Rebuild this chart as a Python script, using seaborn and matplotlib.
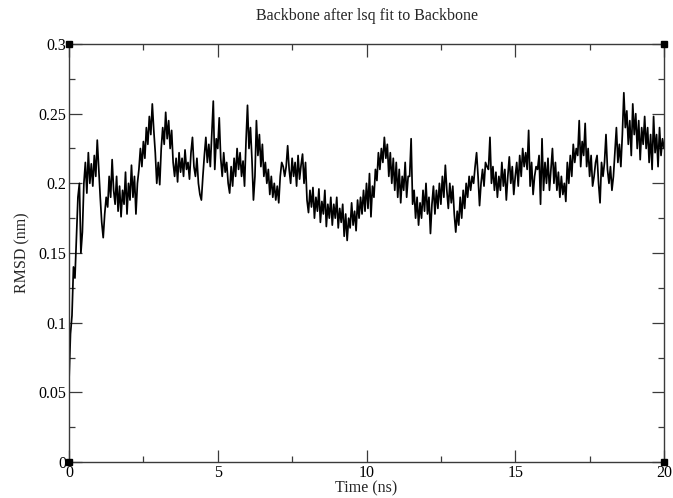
import numpy as np
import pandas as pd
import matplotlib
matplotlib.use("Agg")
import matplotlib.pyplot as plt
import seaborn as sns
from matplotlib.ticker import MultipleLocator

# ---- data (RMSD in nm, every 0.05 ns) ----
time_step_ns = 0.05
rmsd_nm = [
    # 0-1 ns
    0.058, 0.092, 0.105, 0.140, 0.132, 0.160, 0.190, 0.200, 0.150, 0.165,
    0.200, 0.215, 0.193, 0.222, 0.200, 0.214, 0.198, 0.220, 0.205, 0.231,
    # 1-2 ns
    0.210, 0.190, 0.172, 0.161, 0.178, 0.190, 0.183, 0.205, 0.190, 0.217,
    0.195, 0.185, 0.205, 0.180, 0.198, 0.176, 0.195, 0.185, 0.208, 0.178,
    # 2-3 ns
    0.200, 0.188, 0.213, 0.190, 0.205, 0.178, 0.200, 0.210, 0.225, 0.212,
    0.230, 0.218, 0.240, 0.228, 0.248, 0.235, 0.257, 0.238, 0.222, 0.200,
    # 3-4 ns
    0.215, 0.199, 0.225, 0.240, 0.228, 0.251, 0.232, 0.245, 0.225, 0.238,
    0.215, 0.205, 0.218, 0.201, 0.222, 0.208, 0.218, 0.205, 0.224, 0.210,
    # 4-5 ns
    0.215, 0.203, 0.222, 0.233, 0.212, 0.205, 0.218, 0.200, 0.192, 0.188,
    0.205, 0.220, 0.233, 0.215, 0.228, 0.212, 0.235, 0.259, 0.210, 0.232,
    # 5-6 ns
    0.225, 0.247, 0.218, 0.205, 0.222, 0.208, 0.215, 0.200, 0.193, 0.212,
    0.198, 0.218, 0.205, 0.225, 0.210, 0.222, 0.205, 0.216, 0.198, 0.230,
    # 6-7 ns
    0.256, 0.225, 0.240, 0.217, 0.188, 0.205, 0.245, 0.220, 0.235, 0.212,
    0.228, 0.205, 0.215, 0.200, 0.210, 0.192, 0.205, 0.190, 0.200, 0.188,
    # 7-8 ns
    0.198, 0.186, 0.205, 0.215, 0.212, 0.205, 0.212, 0.227, 0.210, 0.200,
    0.218, 0.205, 0.215, 0.198, 0.220, 0.203, 0.213, 0.221, 0.200, 0.215,
    # 8-9 ns
    0.188, 0.179, 0.195, 0.183, 0.197, 0.175, 0.190, 0.180, 0.196, 0.172,
    0.187, 0.178, 0.195, 0.169, 0.185, 0.175, 0.190, 0.170, 0.185, 0.175,
    # 9-10 ns
    0.190, 0.168, 0.182, 0.172, 0.185, 0.162, 0.178, 0.159, 0.175, 0.168,
    0.186, 0.170, 0.180, 0.166, 0.188, 0.175, 0.190, 0.178, 0.195, 0.180,
    # 10-11 ns
    0.200, 0.182, 0.207, 0.176, 0.198, 0.190, 0.210, 0.202, 0.222, 0.210,
    0.225, 0.215, 0.233, 0.218, 0.228, 0.205, 0.222, 0.200, 0.218, 0.195,
    # 11-12 ns
    0.215, 0.190, 0.210, 0.186, 0.205, 0.195, 0.215, 0.190, 0.205, 0.205,
    0.232, 0.185, 0.195, 0.175, 0.190, 0.170, 0.186, 0.175, 0.195, 0.180,
    # 12-13 ns
    0.200, 0.178, 0.190, 0.164, 0.185, 0.198, 0.178, 0.195, 0.182, 0.200,
    0.185, 0.205, 0.190, 0.213, 0.195, 0.182, 0.200, 0.186, 0.198, 0.178,
    # 13-14 ns
    0.165, 0.180, 0.170, 0.190, 0.175, 0.195, 0.182, 0.200, 0.190, 0.205,
    0.195, 0.205, 0.200, 0.212, 0.222, 0.205, 0.184, 0.200, 0.210, 0.198,
    # 14-15 ns
    0.215, 0.212, 0.210, 0.233, 0.200, 0.212, 0.195, 0.208, 0.190, 0.205,
    0.195, 0.215, 0.198, 0.210, 0.188, 0.205, 0.219, 0.200, 0.212, 0.192,
    # 15-16 ns
    0.205, 0.215, 0.198, 0.220, 0.205, 0.225, 0.212, 0.222, 0.210, 0.238,
    0.198, 0.215, 0.192, 0.205, 0.212, 0.210, 0.220, 0.185, 0.232, 0.195,
    # 16-17 ns
    0.215, 0.200, 0.218, 0.195, 0.210, 0.225, 0.200, 0.215, 0.195, 0.208,
    0.190, 0.205, 0.192, 0.200, 0.187, 0.215, 0.200, 0.220, 0.205, 0.228,
    # 17-18 ns
    0.215, 0.225, 0.220, 0.245, 0.212, 0.230, 0.220, 0.243, 0.212, 0.225,
    0.205, 0.220, 0.198, 0.205, 0.215, 0.220, 0.200, 0.186, 0.215, 0.205,
    # 18-19 ns
    0.215, 0.235, 0.210, 0.200, 0.212, 0.195, 0.205, 0.222, 0.240, 0.215,
    0.228, 0.212, 0.235, 0.265, 0.240, 0.252, 0.228, 0.245, 0.220, 0.257,
    # 19-20 ns
    0.235, 0.250, 0.225, 0.245, 0.217, 0.240, 0.228, 0.248, 0.225, 0.240,
    0.215, 0.235, 0.210, 0.248, 0.222, 0.235, 0.212, 0.240, 0.220, 0.232,
    0.225,
]
time_ns = np.arange(len(rmsd_nm)) * time_step_ns

title_text = "Backbone after lsq fit to Backbone"
x_label = "Time (ns)"
y_label = "RMSD (nm)"
x_major = 5
x_minor = 2.5
y_major = 0.05
y_minor = 0.025

df = pd.DataFrame({"time": time_ns, "rmsd": rmsd_nm})

# ---- style ----
sns.set_theme(style="ticks")
plt.rcParams["font.family"] = ["Liberation Serif", "DejaVu Serif"]

axis_color = "#3a3a3a"
fig = plt.figure(figsize=(6.73, 4.98), dpi=100)
ax = fig.add_axes([69 / 673, 1 - 462 / 498, (664 - 69) / 673, (462 - 44) / 498])

sns.lineplot(data=df, x="time", y="rmsd", ax=ax, color="black",
             linewidth=1.25, estimator=None, sort=False)

ax.set_xlim(0, 20)
ax.set_ylim(0, 0.3)
ax.xaxis.set_major_locator(MultipleLocator(x_major))
ax.xaxis.set_minor_locator(MultipleLocator(x_minor))
ax.yaxis.set_major_locator(MultipleLocator(y_major))
ax.yaxis.set_minor_locator(MultipleLocator(y_minor))
ax.xaxis.set_major_formatter(plt.FuncFormatter(lambda v, p: f"{v:g}"))
ax.yaxis.set_major_formatter(plt.FuncFormatter(lambda v, p: f"{v:g}"))

ax.tick_params(which="both", direction="in", top=True, right=True,
               color=axis_color, labelsize=11.5, labelcolor="black")
ax.tick_params(which="major", length=9, width=0.9)
ax.tick_params(which="minor", length=4.5, width=0.9)
ax.tick_params(axis="x", which="major", pad=2)
ax.tick_params(axis="y", which="major", pad=2)

for s in ax.spines.values():
    s.set_visible(True)
    s.set_color(axis_color)
    s.set_linewidth(1.0)

ax.set_xlabel(x_label, fontsize=11.5, labelpad=0)
ax.set_ylabel(y_label, fontsize=11.5, labelpad=6)
ax.set_title(title_text, fontsize=11.5, pad=17)

# small corner squares of the frame
ax.plot([0, 1, 0, 1], [0, 0, 1, 1], transform=ax.transAxes, ls="",
        marker="s", markersize=4, color="black", clip_on=False, zorder=5)

fig.savefig("out.png", dpi=100)
